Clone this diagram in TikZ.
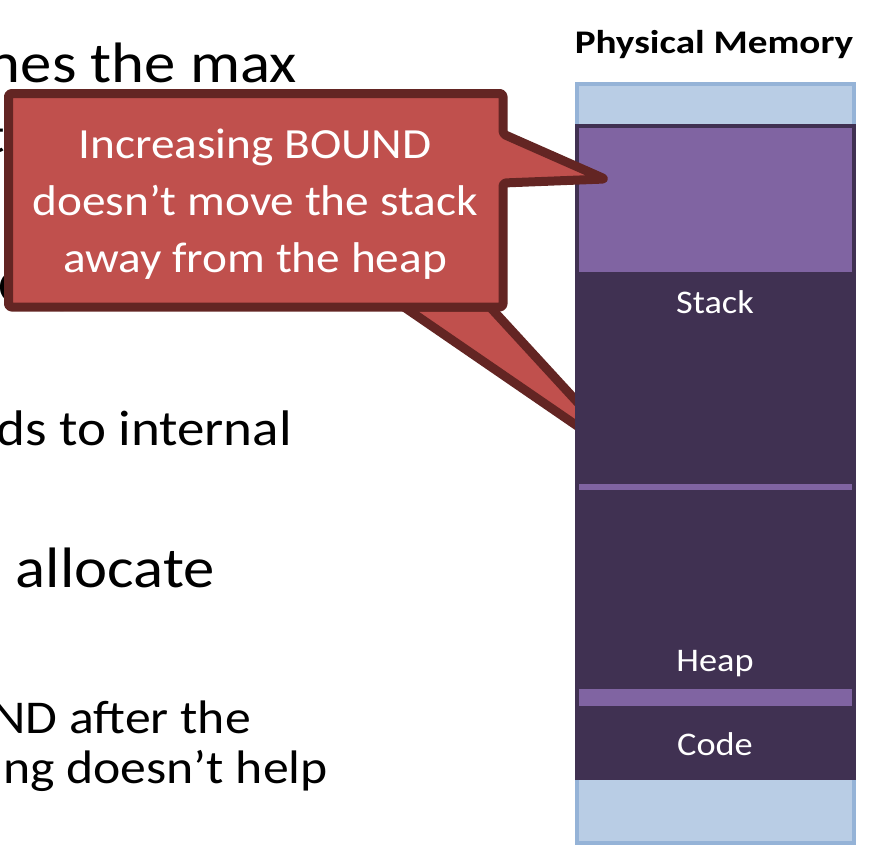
\documentclass[tikz,border=0pt]{standalone}
\usepackage{fontspec}
\setmainfont{Carlito}[FakeStretch=1.1]
\definecolor{calfill}{HTML}{C0504D}
\definecolor{caledge}{HTML}{632523}
\definecolor{memdark}{HTML}{403152}
\definecolor{mempurple}{HTML}{8064A2}
\definecolor{memlight}{HTML}{B9CDE5}
\definecolor{memedge}{HTML}{95B3D7}
\begin{document}
\begin{tikzpicture}[x=1pt,y=-1pt,
  bodytext/.style={inner sep=0pt, text=black},
  bigtext/.style={bodytext, font=\fontsize{57}{68}\selectfont},
  midtext/.style={bodytext, font=\fontsize{50}{60}\selectfont},
  smalltext/.style={bodytext, font=\fontsize{47}{56}\selectfont},
  calloutshape/.style={fill=calfill, draw=caledge, line width=9pt, line join=round},
  callouttext/.style={inner sep=0pt, text=white, anchor=base, font=\fontsize{43}{57}\selectfont},
  memlabel/.style={inner sep=0pt, text=white, anchor=base, font=\fontsize{33}{40}\selectfont}]
\useasboundingbox (0,0) rectangle (882,854);
\fill[white] (0,0) rectangle (882,854);

% slide text (partly hidden)
\node[bigtext, anchor=base east] (t1) at (297,82) {nes the max};
\node[midtext, anchor=base east] (t2) at (5,152) {t};
\node[midtext, anchor=base west] (t3) at (-2,303) {Ory};
\node[midtext, anchor=base east] (t4) at (292,445) {ds to internal};
\node[bigtext, anchor=base east] (t5) at (215,587) {allocate};
\node[smalltext, anchor=base east] (t6) at (251,733) {ND after the};
\node[smalltext, anchor=base east] (t7) at (328,783) {ng doesn’t help};

% lower tail of the callout (behind the memory column)
\filldraw[calloutshape] (404,307) -- (637,467) -- (490,307) -- cycle;

% physical memory column
\node[inner sep=0pt, anchor=base, font=\bfseries\fontsize{33}{40}\selectfont] (title) at (714,53) {\scalebox{1.08}[1]{Physical Memory}};
\filldraw[fill=memlight, draw=memedge, line width=3.5pt] (577,84) rectangle (854,843);
\fill[memdark] (575,124) rectangle (856,780);
\fill[mempurple] (579,128) rectangle (852,272);
\fill[mempurple] (579,484) rectangle (852,490);
\fill[mempurple] (579,689) rectangle (852,706);
\node[memlabel] (stack) at (715,313) {Stack};
\node[memlabel] (heap) at (715,671) {Heap};
\node[memlabel] (code) at (715,755) {Code};

% callout
\filldraw[calloutshape, rounded corners=3pt] (8.5,93.5) -- (503,93.5) -- (503,134) -- (605,179) -- (503,183) -- (503,307) -- (8.5,307) -- cycle;
\node[callouttext] (c1) at (255,158) {Increasing BOUND};
\node[callouttext] (c2) at (255,215) {doesn’t move the stack};
\node[callouttext] (c3) at (255,272) {away from the heap};
\end{tikzpicture}
\end{document}
